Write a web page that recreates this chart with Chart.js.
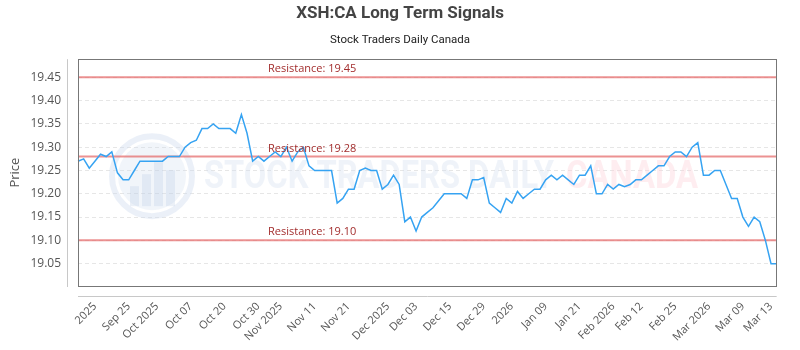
<!DOCTYPE html>
<html>
<head>
<meta charset="utf-8">
<script src="https://cdn.jsdelivr.net/npm/chart.js@4"></script>
<style>
  html, body { margin: 0; padding: 0; background: #fff; }
  #wrap { width: 800px; height: 350px; }
</style>
</head>
<body>
<div id="wrap"><canvas id="chart" width="800" height="350"></canvas></div>
<script>
// closing prices, one per session
const prices = [
  19.27, 19.275, 19.255, 19.27, 19.285, 19.28, 19.29, 19.245, 19.23, 19.23,
  19.25, 19.27, 19.27, 19.27, 19.27, 19.27, 19.28, 19.28, 19.28, 19.30,
  19.31, 19.315, 19.34, 19.34, 19.35, 19.34, 19.34, 19.34, 19.33, 19.37,
  19.33, 19.27, 19.28, 19.27, 19.28, 19.29, 19.28, 19.30, 19.27, 19.29,
  19.30, 19.26, 19.25, 19.25, 19.25, 19.25, 19.18, 19.19, 19.21, 19.21,
  19.25, 19.255, 19.25, 19.25, 19.21, 19.22, 19.24, 19.22, 19.14, 19.15,
  19.12, 19.15, 19.16, 19.17, 19.185, 19.20, 19.20, 19.20, 19.20, 19.19,
  19.23, 19.23, 19.235, 19.18, 19.17, 19.16, 19.19, 19.18, 19.205, 19.19,
  19.20, 19.21, 19.21, 19.23, 19.24, 19.23, 19.24, 19.23, 19.22, 19.24,
  19.24, 19.26, 19.20, 19.20, 19.22, 19.21, 19.22, 19.215, 19.22, 19.23,
  19.23, 19.24, 19.25, 19.26, 19.26, 19.28, 19.29, 19.29, 19.28, 19.30,
  19.31, 19.24, 19.24, 19.25, 19.25, 19.22, 19.19, 19.19, 19.15, 19.13,
  19.15, 19.14, 19.10, 19.05, 19.05
];

// x tick labels and the session they sit on
const tickText = ['2025', 'Sep 25', 'Oct 2025', 'Oct 07', 'Oct 20', 'Oct 30', 'Nov 2025', 'Nov 11',
  'Nov 21', 'Dec 2025', 'Dec 03', 'Dec 15', 'Dec 29', '2026', 'Jan 09', 'Jan 21', 'Feb 2026',
  'Feb 12', 'Feb 25', 'Mar 2026', 'Mar 09', 'Mar 13'];
const tickIndex = [3, 9, 14, 20, 26, 32, 36, 42, 48, 55, 60, 66, 72, 77, 83, 89, 95, 100, 106, 112, 118, 123];

const resistance = [19.45, 19.28, 19.10];

const labels = prices.map(() => '');
tickIndex.forEach((idx, k) => { labels[idx] = tickText[k]; });

// box round the plot plus the loose axis lines and the watermark
const framePlugin = {
  id: 'frame',
  beforeDatasetsDraw(chart) {
    const { ctx, chartArea: a } = chart;
    ctx.save();
    // watermark logo
    const cx = a.left + 74, cy = a.top + 117, r = 40;
    ctx.strokeStyle = 'rgba(205,218,238,0.4)';
    ctx.lineWidth = 6;
    ctx.beginPath();
    ctx.arc(cx, cy, r, 0, Math.PI * 2);
    ctx.stroke();
    ctx.fillStyle = 'rgba(205,218,238,0.28)';
    ctx.beginPath();
    ctx.arc(cx, cy, r - 6, 0, Math.PI * 2);
    ctx.fill();
    ctx.fillStyle = 'rgba(190,205,228,0.3)';
    [[-22, 10], [-10, -2], [2, -14], [14, -6]].forEach(([dx, top]) => {
      ctx.fillRect(cx + dx, cy + top, 9, 30 - top);
    });
    // watermark text
    ctx.textBaseline = 'middle';
    ctx.font = 'bold 38px Roboto';
    const t1 = 'STOCK TRADERS DAILY';
    const w1 = ctx.measureText(t1).width;
    ctx.save();
    ctx.translate(a.left + 126, cy + 2);
    ctx.scale(350 / w1, 1);
    ctx.fillStyle = 'rgba(214,224,238,0.38)';
    ctx.textAlign = 'left';
    ctx.fillText(t1, 0, 0);
    ctx.restore();
    const t2 = 'CANADA';
    const w2 = ctx.measureText(t2).width;
    ctx.save();
    ctx.translate(a.left + 488, cy + 2);
    ctx.scale(132 / w2, 1);
    ctx.fillStyle = 'rgba(252,210,218,0.4)';
    ctx.fillText(t2, 0, 0);
    ctx.restore();
    ctx.restore();
  },
  afterDatasetsDraw(chart) {
    const { ctx, chartArea: a, scales } = chart;
    ctx.save();
    ctx.font = '11px "Open Sans"';
    ctx.fillStyle = '#a32e2e';
    ctx.textAlign = 'left';
    ctx.textBaseline = 'alphabetic';
    resistance.forEach(level => {
      const y = scales.y.getPixelForValue(level);
      ctx.fillText('Resistance: ' + level.toFixed(2), a.left + 190, y - 5);
    });
    ctx.strokeStyle = '#777';
    ctx.lineWidth = 1;
    ctx.strokeRect(Math.round(a.left) + 0.5, Math.round(a.top) + 0.5,
      Math.round(a.right - a.left) - 1, Math.round(a.bottom - a.top));
    ctx.strokeStyle = '#c8c8c8';
    ctx.beginPath();
    ctx.moveTo(Math.round(a.left) - 10.5, a.top);
    ctx.lineTo(Math.round(a.left) - 10.5, a.bottom + 1);
    ctx.moveTo(a.left, Math.round(a.bottom) + 10.5);
    ctx.lineTo(a.right, Math.round(a.bottom) + 10.5);
    ctx.stroke();
    ctx.restore();
  }
};

const datasets = [{
  label: 'XSH:CA',
  data: prices,
  borderColor: '#36a3f2',
  borderWidth: 1.5,
  pointRadius: 0,
  tension: 0,
  fill: false
}].concat(resistance.map(level => ({
  label: 'Resistance ' + level,
  data: prices.map(() => level),
  borderColor: 'rgba(230,110,110,0.75)',
  borderWidth: 2,
  pointRadius: 0,
  fill: false
})));

new Chart(document.getElementById('chart').getContext('2d'), {
  type: 'line',
  data: { labels: labels, datasets: datasets },
  plugins: [framePlugin],
  options: {
    responsive: false,
    animation: false,
    layout: { padding: 0 },
    plugins: {
      legend: { display: false },
      tooltip: { enabled: false },
      title: {
        display: true,
        text: 'XSH:CA Long Term Signals',
        color: '#444',
        font: { family: 'Roboto', size: 17, weight: 'bold', lineHeight: 1.2 },
        padding: { top: 4, bottom: 5 }
      },
      subtitle: {
        display: true,
        text: 'Stock Traders Daily Canada',
        color: '#222',
        font: { family: 'Roboto', size: 11.5, lineHeight: 1.2 },
        padding: { top: 4, bottom: 12 }
      }
    },
    scales: {
      x: {
        grid: { display: false, drawTicks: false },
        border: { display: false },
        afterFit(scale) { scale.height = 64; },
        ticks: {
          autoSkip: false,
          maxRotation: 45,
          minRotation: 45,
          padding: 14,
          color: '#555',
          font: { family: 'Open Sans', size: 11 },
          callback: (v, i) => labels[i]
        }
      },
      y: {
        min: 19.002,
        max: 19.489,
        afterFit(scale) { scale.width = 78; },
        border: { display: false, dash: [4, 3] },
        grid: { color: '#e6e6e6', drawTicks: false },
        ticks: {
          stepSize: 0.05,
          includeBounds: false,
          padding: 17,
          color: '#555',
          font: { family: 'Open Sans', size: 12 },
          callback: v => v.toFixed(2)
        },
        title: {
          display: true,
          text: 'Price',
          color: '#555',
          font: { family: 'Open Sans', size: 13, lineHeight: 1.2 },
          padding: { top: 7, bottom: 0 }
        }
      },
      // empty strip on the right so the titles stay centred on the page
      yRight: {
        position: 'right',
        min: 19.002,
        max: 19.489,
        afterFit(scale) { scale.width = 11; },
        border: { display: false },
        grid: { display: false, drawTicks: false },
        ticks: { display: false }
      }
    }
  }
});
</script>
</body>
</html>
